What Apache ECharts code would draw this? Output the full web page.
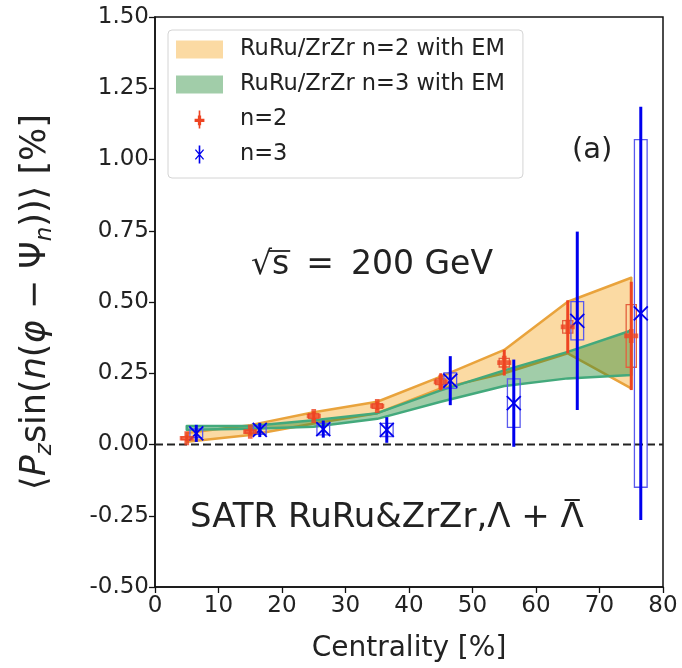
<!DOCTYPE html>
<html>
<head>
<meta charset="utf-8">
<script src="https://cdn.jsdelivr.net/npm/echarts@6/dist/echarts.min.js"></script>
<style>
  html, body { margin: 0; padding: 0; background: #fff; }
  #chart { width: 682px; height: 668px; }
</style>
</head>
<body>
<div id="chart"></div>
<script>
// Centrality bins (x) for the two harmonics
const centralityN2 = [5, 15, 25, 35, 45, 55, 65, 75];
const centralityN3 = [6.5, 16.5, 26.5, 36.5, 46.5, 56.5, 66.5, 76.5];

// n=2 measurement: value, statistical and systematic uncertainty
const valueN2 = [0.022, 0.045, 0.100, 0.135, 0.220, 0.287, 0.413, 0.381];
const statN2  = [0.010, 0.010, 0.015, 0.015, 0.030, 0.045, 0.093, 0.190];
const systN2  = [0.005, 0.005, 0.008, 0.008, 0.010, 0.015, 0.022, 0.110];

// n=3 measurement: value, statistical and systematic uncertainty
const valueN3 = [0.039, 0.051, 0.054, 0.051, 0.224, 0.145, 0.434, 0.460];
const statN3  = [0.030, 0.025, 0.030, 0.045, 0.086, 0.153, 0.313, 0.725];
const systN3  = [0.015, 0.015, 0.020, 0.023, 0.027, 0.085, 0.067, 0.610];

// Model bands (RuRu/ZrZr with EM field)
const bandX       = [5, 15, 25, 35, 45, 55, 65, 75];
const bandN2Upper = [0.040, 0.068, 0.113, 0.150, 0.238, 0.332, 0.501, 0.585];
const bandN2Lower = [0.010, 0.033, 0.074, 0.110, 0.197, 0.250, 0.320, 0.197];
const bandN3Upper = [0.065, 0.065, 0.085, 0.110, 0.190, 0.260, 0.325, 0.400];
const bandN3Lower = [0.052, 0.055, 0.062, 0.090, 0.150, 0.205, 0.232, 0.244];

const FONT = 'DejaVu Sans';
const TEXT = '#222';
const RED = '#ee4422';
const BLUE = '#0000ee';
const ORANGE_FILL = 'rgba(245,166,35,0.42)';
const ORANGE_EDGE = '#e9a33c';
const GREEN_FILL = 'rgba(30,135,50,0.42)';
const GREEN_EDGE = '#43a97c';

const NAME_B2 = 'RuRu/ZrZr n=2 with EM';
const NAME_B3 = 'RuRu/ZrZr n=3 with EM';

// filled plus with an error bar through it, and an x with an error bar
const ICON_N2 = 'path://M5,0h2v22h-2Z M4,6h4v4h4v4h-4v4h-4v-4h-4v-4h4Z';
const ICON_N3 = 'path://M5,0h2v22h-2Z M1.61,4.49L11.61,16.49L10.39,17.51L0.39,5.51Z M11.61,5.51L1.61,17.51L0.39,16.49L10.39,4.49Z';
const PLUS = 'path://M4,0h4v4h4v4h-4v4h-4v-4h-4v-4h4Z';

// text measuring for the radical bar and the anti-lambda bar
const measureCtx = document.createElement('canvas').getContext('2d');
function textWidth(str, size) {
  measureCtx.font = size + 'px "' + FONT + '"';
  return measureCtx.measureText(str).width;
}

function bandSeries(name, xs, lower, upper, fill, edge, z) {
  return {
    name: name,
    type: 'custom',
    z: z,
    data: xs.map((x, i) => [x, lower[i], upper[i]]),
    encode: { x: 0, y: [1, 2] },
    renderItem: function (params, api) {
      if (params.dataIndex !== 0) return null;
      const pts = [];
      for (let i = 0; i < xs.length; i++) pts.push(api.coord([xs[i], upper[i]]));
      for (let i = xs.length - 1; i >= 0; i--) pts.push(api.coord([xs[i], lower[i]]));
      return {
        type: 'polygon',
        shape: { points: pts },
        style: { fill: fill, stroke: edge, lineWidth: 2.5, lineJoin: 'round' }
      };
    }
  };
}

function errorBarSeries(name, xs, vals, errs, color, width, z) {
  return {
    name: name,
    type: 'custom',
    z: z,
    data: xs.map((x, i) => [x, vals[i] - errs[i], vals[i] + errs[i]]),
    encode: { x: 0, y: [1, 2] },
    renderItem: function (params, api) {
      const a = api.coord([api.value(0), api.value(1)]);
      const b = api.coord([api.value(0), api.value(2)]);
      return {
        type: 'line',
        shape: { x1: a[0], y1: a[1], x2: b[0], y2: b[1] },
        style: { stroke: color, lineWidth: width }
      };
    }
  };
}

function systBoxSeries(name, xs, vals, errs, boxWidth, color, z) {
  return {
    name: name,
    type: 'custom',
    z: z,
    data: xs.map((x, i) => [x, vals[i] - errs[i], vals[i] + errs[i]]),
    encode: { x: 0, y: [1, 2] },
    renderItem: function (params, api) {
      const lo = api.coord([api.value(0), api.value(1)]);
      const hi = api.coord([api.value(0), api.value(2)]);
      const w = api.size([boxWidth, 0])[0];
      return {
        type: 'rect',
        shape: { x: lo[0] - w / 2, y: hi[1], width: w, height: lo[1] - hi[1] },
        style: { fill: 'none', stroke: color, lineWidth: 1.3 }
      };
    }
  };
}

// annotation texts
const energyLeft = 251, energyTop = 249, energySize = 33;
const energyText = '\u221As\u2009 = \u2009200 GeV';
const sysLeft = 190, sysTop = 501, sysSize = 34;
const sysText = 'SATR RuRu&ZrZr,\u039B + \u039B';

const rootW = textWidth('\u221A', energySize);
const sW = textWidth('s', energySize);
const lamStart = textWidth('SATR RuRu&ZrZr,\u039B + ', sysSize);
const lamW = textWidth('\u039B', sysSize);

const chart = echarts.init(document.getElementById('chart'), null, { renderer: 'canvas' });

const option = {
  animation: false,
  backgroundColor: '#fff',
  textStyle: { fontFamily: FONT },
  grid: {
    left: 155, right: 19, top: 17, bottom: 81,
    show: true, borderColor: '#111', borderWidth: 1.5, backgroundColor: 'transparent'
  },
  legend: {
    orient: 'vertical',
    left: 168, top: 30,
    padding: [8, 18, 12, 8],
    itemWidth: 47, itemHeight: 18,
    itemGap: 12,
    backgroundColor: 'rgba(255,255,255,0.85)',
    borderColor: '#d4d4d4', borderWidth: 1, borderRadius: 4,
    textStyle: { fontFamily: FONT, fontSize: 22.5, color: TEXT, lineHeight: 22, padding: [0, 0, 0, 12] },
    data: [
      { name: NAME_B2, icon: 'rect', itemStyle: { color: ORANGE_FILL, borderWidth: 0 } },
      { name: NAME_B3, icon: 'rect', itemStyle: { color: GREEN_FILL, borderWidth: 0 } },
      { name: 'n=2', icon: ICON_N2, itemStyle: { color: RED, borderWidth: 0 } },
      { name: 'n=3', icon: ICON_N3, itemStyle: { color: BLUE, borderWidth: 0 } }
    ]
  },
  xAxis: {
    type: 'value',
    min: 0, max: 80, interval: 10,
    name: 'Centrality [%]',
    nameLocation: 'middle',
    nameGap: 48,
    nameTextStyle: { fontFamily: FONT, fontSize: 28, color: TEXT },
    axisLine: { show: true, onZero: false, lineStyle: { color: '#111', width: 1.5 } },
    axisTick: { show: true, length: 6, lineStyle: { color: '#111', width: 1.3 } },
    axisLabel: { fontFamily: FONT, fontSize: 23, color: TEXT, margin: 8 },
    splitLine: { show: false }
  },
  yAxis: {
    type: 'value',
    min: -0.5, max: 1.5, interval: 0.25,
    name: '{a|\u27E8}{i|P}{s|z}{a|sin(}{i|n}{a|(}{i|\u03C6}{a| \u2212 \u03A8}{s|n}{a|))\u27E9 [%]}',
    nameLocation: 'middle',
    nameGap: 98,
    nameTextStyle: {
      fontFamily: FONT, fontSize: 35, color: TEXT,
      rich: {
        a: { fontFamily: FONT, fontSize: 35, color: TEXT, lineHeight: 42 },
        i: { fontFamily: FONT, fontSize: 35, color: TEXT, fontStyle: 'italic', lineHeight: 42 },
        s: { fontFamily: FONT, fontSize: 23, color: TEXT, fontStyle: 'italic', lineHeight: 23, verticalAlign: 'bottom' }
      }
    },
    axisLine: { show: true, onZero: false, lineStyle: { color: '#111', width: 1.5 } },
    axisTick: { show: true, length: 6, lineStyle: { color: '#111', width: 1.3 } },
    axisLabel: {
      fontFamily: FONT, fontSize: 23, color: TEXT, margin: 6,
      formatter: v => v.toFixed(2)
    },
    splitLine: { show: false }
  },
  graphic: [
    {
      type: 'text', left: 572, top: 136, z: 100,
      style: { text: '(a)', fontFamily: FONT, fontSize: 29, fill: TEXT }
    },
    {
      type: 'text', left: energyLeft, top: energyTop, z: 100,
      style: { text: energyText, fontFamily: FONT, fontSize: energySize, fill: TEXT }
    },
    {
      type: 'line', z: 100,
      shape: {
        x1: energyLeft + rootW * 0.8, y1: energyTop + 2,
        x2: energyLeft + rootW + sW + 1, y2: energyTop + 2
      },
      style: { stroke: TEXT, lineWidth: 1.8 }
    },
    {
      type: 'text', left: sysLeft, top: sysTop, z: 100,
      style: { text: sysText, fontFamily: FONT, fontSize: sysSize, fill: TEXT }
    },
    {
      type: 'line', z: 100,
      shape: {
        x1: sysLeft + lamStart + 4, y1: sysTop - 1,
        x2: sysLeft + lamStart + lamW - 4, y2: sysTop - 1
      },
      style: { stroke: TEXT, lineWidth: 2 }
    }
  ],
  series: [
    {
      name: 'zero',
      type: 'line',
      z: 1,
      symbol: 'none',
      silent: true,
      data: [[0, 0], [80, 0]],
      lineStyle: { color: '#222', width: 2, type: [8, 4] }
    },
    bandSeries(NAME_B2, bandX, bandN2Lower, bandN2Upper, ORANGE_FILL, ORANGE_EDGE, 2),
    bandSeries(NAME_B3, bandX, bandN3Lower, bandN3Upper, GREEN_FILL, GREEN_EDGE, 3),
    systBoxSeries('n=2', centralityN2, valueN2, systN2, 1.6, '#e3603f', 4),
    systBoxSeries('n=3', centralityN3, valueN3, systN3, 2.0, '#5a5aee', 4),
    errorBarSeries('n=2', centralityN2, valueN2, statN2, RED, 3, 5),
    errorBarSeries('n=3', centralityN3, valueN3, statN3, BLUE, 3, 5),
    {
      name: 'n=2',
      type: 'scatter',
      z: 6,
      symbol: PLUS,
      symbolSize: 14,
      itemStyle: { color: RED },
      data: centralityN2.map((x, i) => [x, valueN2[i]])
    },
    {
      name: 'n=3',
      type: 'custom',
      z: 6,
      data: centralityN3.map((x, i) => [x, valueN3[i]]),
      encode: { x: 0, y: 1 },
      renderItem: function (params, api) {
        const c = api.coord([api.value(0), api.value(1)]);
        const r = 7;
        const st = { stroke: BLUE, lineWidth: 1.8 };
        return {
          type: 'group',
          children: [
            { type: 'line', shape: { x1: c[0] - r, y1: c[1] - r, x2: c[0] + r, y2: c[1] + r }, style: st },
            { type: 'line', shape: { x1: c[0] + r, y1: c[1] - r, x2: c[0] - r, y2: c[1] + r }, style: st }
          ]
        };
      }
    }
  ]
};

chart.setOption(option);
</script>
</body>
</html>
